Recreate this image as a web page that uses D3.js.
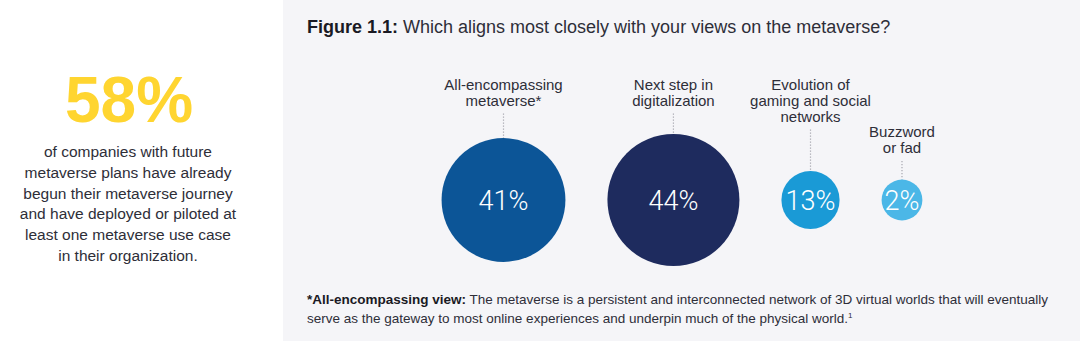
<!DOCTYPE html>
<html>
<head>
<meta charset="utf-8">
<script src="https://cdn.jsdelivr.net/npm/d3@7"></script>
<style>
  html, body { margin: 0; padding: 0; background: #ffffff; }
  svg { display: block; }
</style>
</head>
<body>
<svg id="chart" width="1080" height="341"></svg>
<script>
// Survey responses: which view of the metaverse aligns most closely
const categories = [
  ["All-encompassing", "metaverse*"],
  ["Next step in", "digitalization"],
  ["Evolution of", "gaming and social", "networks"],
  ["Buzzword", "or fad"]
];
const values = [41, 44, 13, 2];
const colors = ["#0c5597", "#1e2b5e", "#1a9ad6", "#4bb7e7"];

// Headline statistic on the left
const headline = "58%";
const headlineText = [
  "of companies with future",
  "metaverse plans have already",
  "begun their metaverse journey",
  "and have deployed or piloted at",
  "least one metaverse use case",
  "in their organization."
];

const titleBold = "Figure 1.1:";
const titleRest = " Which aligns most closely with your views on the metaverse?";
const noteBold = "*All-encompassing view:";
const noteLine1 = " The metaverse is a persistent and interconnected network of 3D virtual worlds that will eventually";
const noteLine2 = "serve as the gateway to most online experiences and underpin much of the physical world.";

const svg = d3.select("#chart");
const W = 1080, H = 341;
const FONT = "'Liberation Sans', Arial, sans-serif";
const TEXT = "#2e2e38";

// Light panel behind the figure
svg.append("rect").attr("x", 283).attr("y", 0).attr("width", W - 283).attr("height", H)
  .attr("fill", "#f5f5f8");

// Left statistic block
svg.append("text").attr("x", 129).attr("y", 122)
  .attr("text-anchor", "middle").attr("font-family", FONT)
  .attr("font-weight", "bold").attr("font-size", 64).attr("fill", "#ffd530")
  .text(headline);

svg.append("g").selectAll("text").data(headlineText).join("text")
  .attr("x", 128).attr("y", (d, i) => 157 + i * 20.8)
  .attr("text-anchor", "middle").attr("font-family", FONT)
  .attr("font-size", 15.5).attr("fill", TEXT)
  .text(d => d);

// Title
const title = svg.append("text").attr("x", 307).attr("y", 33)
  .attr("font-family", FONT).attr("font-size", 18).attr("fill", TEXT);
title.append("tspan").attr("font-weight", "bold").attr("fill", "#1a1a24").text(titleBold);
title.append("tspan").text(titleRest);

// Bubble sizes
const r = d3.scalePow().exponent(1.3)
  .domain([d3.min(values), d3.max(values)])
  .range([20.4, 66]);

// Pack bubbles left to right with a constant gap
const gap = 42;
const cy = 200;
const centers = [];
values.forEach((v, i) => {
  if (i === 0) centers.push(503.5);
  else centers.push(centers[i - 1] + r(values[i - 1]) + gap + r(v));
});

const data = values.map((v, i) => ({ v, label: categories[i], color: colors[i], cx: centers[i] }));
const lineH = 16;

const g = svg.append("g").selectAll("g").data(data).join("g");

// Category labels; the smallest bubble carries its label lower down
g.each(function (d, i) {
  const sel = d3.select(this);
  const top = i === data.length - 1 ? 137 : 89.5;
  const t = sel.append("text").attr("text-anchor", "middle")
    .attr("font-family", FONT).attr("font-size", 15).attr("fill", TEXT);
  d.label.forEach((line, j) => {
    t.append("tspan").attr("x", d.cx).attr("y", top + j * lineH).text(line);
  });
  const lastBase = top + (d.label.length - 1) * lineH;
  sel.append("line")
    .attr("x1", d.cx).attr("x2", d.cx)
    .attr("y1", lastBase + 8).attr("y2", cy - r(d.v))
    .attr("stroke", "#a8a8b0").attr("stroke-width", 1.2)
    .attr("stroke-dasharray", "1.2,1.8");
});

g.append("circle")
  .attr("cx", d => d.cx).attr("cy", cy).attr("r", d => r(d.v))
  .attr("fill", d => d.color);

g.append("text")
  .attr("x", d => d.cx).attr("y", cy + 10)
  .attr("text-anchor", "middle")
  .attr("font-family", "Roboto, sans-serif").attr("font-weight", 300)
  .attr("font-size", 27).attr("fill", "#ffffff")
  .text(d => d.v + "%");

// Footnote
const n1 = svg.append("text").attr("x", 307).attr("y", 304)
  .attr("font-family", FONT).attr("font-size", 13.5).attr("fill", TEXT);
n1.append("tspan").attr("font-weight", "bold").attr("fill", "#1a1a24").text(noteBold);
n1.append("tspan").text(noteLine1);

const n2 = svg.append("text").attr("x", 307).attr("y", 323)
  .attr("font-family", FONT).attr("font-size", 13.5).attr("fill", TEXT);
n2.append("tspan").text(noteLine2);
n2.append("tspan").attr("font-size", 8).attr("dy", -5).text("1");
</script>
</body>
</html>
